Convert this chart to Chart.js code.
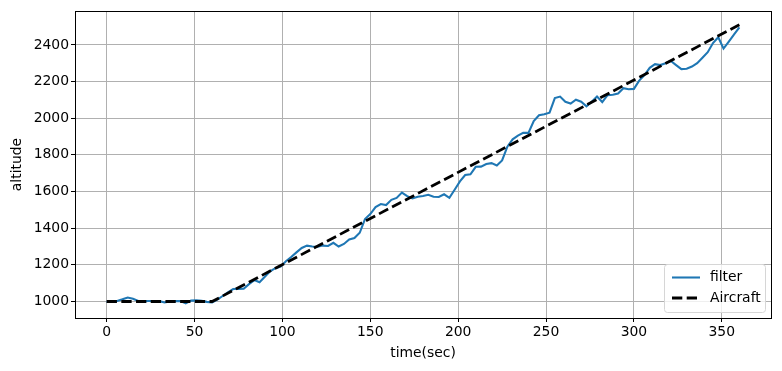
<!DOCTYPE html>
<html>
<head>
<meta charset="utf-8">
<script src="https://cdn.jsdelivr.net/npm/chart.js@4/dist/chart.umd.min.js"></script>
<style>
  html, body { margin: 0; padding: 0; background: #fff; }
  #wrap { width: 782px; height: 371px; }
</style>
</head>
<body>
<div id="wrap"><canvas id="c" width="782" height="371"></canvas></div>
<script>
// --- data ---
// filter: sampled every 3 sec, 0..360
const filterTimes = [];
for (let t = 0; t <= 360; t += 3) filterTimes.push(t);
const filterAlt = [
  997, 1000, 1003, 1012, 1022, 1015, 1003, 1002, 1003, 1003,
  1002, 995, 1000, 1003, 1002, 990, 1005, 1006, 1004, 998,
  995, 1010, 1030, 1050, 1068, 1069, 1070, 1095, 1117, 1105,
  1135, 1165, 1182, 1190, 1220, 1243, 1268, 1292, 1305, 1300,
  1299, 1305, 1303, 1320, 1300, 1314, 1338, 1346, 1375, 1450,
  1477, 1515, 1532, 1526, 1555, 1565, 1594, 1575, 1562, 1572,
  1576, 1582, 1572, 1570, 1585, 1566, 1610, 1655, 1690, 1694,
  1735, 1736, 1750, 1755, 1742, 1770, 1845, 1885, 1905, 1920,
  1920, 1985, 2016, 2022, 2030, 2110, 2118, 2090, 2080, 2101,
  2090, 2065, 2090, 2118, 2088, 2126, 2128, 2135, 2164, 2158,
  2160, 2205, 2235, 2275, 2295, 2290, 2300, 2312, 2290, 2268,
  2270, 2282, 2300, 2330, 2360, 2410, 2442, 2380, 2418, 2457,
  2496
];
// aircraft: level until 60 s, then a steady climb
const aircraftTimes = [0, 60, 360];
const aircraftAlt = [1000, 1000, 2510];

const xTicks = [0, 50, 100, 150, 200, 250, 300, 350];
const yTicks = [1000, 1200, 1400, 1600, 1800, 2000, 2200, 2400];

const BLUE = "#1f77b4";
const GRID = "#b0b0b0";
const FONT = "'DejaVu Sans', sans-serif";
const FSIZE = 13.9;
const DASH = [10.3, 4.4];

const toPoints = (xs, ys) => xs.map((x, i) => ({ x: x, y: ys[i] }));

// frame round the axes + legend box inside, lower right (matplotlib look)
const framePlugin = {
    id: 'frame',
    afterDraw(chart) {
        const ctx = chart.ctx;
        const a = chart.chartArea;
        ctx.save();
        ctx.strokeStyle = "#000";
        ctx.lineWidth = 1;
        ctx.strokeRect(Math.round(a.left) + 0.5, Math.round(a.top) + 0.5,
            Math.round(a.right - a.left), Math.round(a.bottom - a.top));

        // legend
        const bx = a.right - 107, by = a.bottom - 54, bw = 101, bh = 48;
        ctx.fillStyle = "rgba(255,255,255,0.8)";
        ctx.strokeStyle = "#d6d6d6";
        ctx.lineWidth = 1;
        ctx.beginPath();
        ctx.roundRect(bx + 0.5, by + 0.5, bw, bh, 3);
        ctx.fill();
        ctx.stroke();

        ctx.lineWidth = 2.08;
        ctx.strokeStyle = BLUE;
        ctx.beginPath();
        ctx.moveTo(bx + 8, by + 13.5);
        ctx.lineTo(bx + 36, by + 13.5);
        ctx.stroke();

        ctx.lineWidth = 2.78;
        ctx.strokeStyle = "#000";
        ctx.setLineDash(DASH);
        ctx.beginPath();
        ctx.moveTo(bx + 8, by + 34);
        ctx.lineTo(bx + 36, by + 34);
        ctx.stroke();
        ctx.setLineDash([]);

        ctx.fillStyle = "#000";
        ctx.font = FSIZE + "px " + FONT;
        ctx.textBaseline = "middle";
        ctx.fillText("filter", bx + 46, by + 13.5);
        ctx.fillText("Aircraft", bx + 46, by + 34);
        ctx.restore();
    }
};

new Chart(document.getElementById('c').getContext('2d'), {
    type: 'scatter',
    data: {
        datasets: [
            {
                label: 'filter',
                data: toPoints(filterTimes, filterAlt),
                showLine: true,
                borderColor: BLUE,
                borderWidth: 2.08,
                pointRadius: 0,
                tension: 0,
                order: 1
            },
            {
                label: 'Aircraft',
                data: toPoints(aircraftTimes, aircraftAlt),
                showLine: true,
                borderColor: "#000",
                borderWidth: 2.78,
                borderDash: DASH,
                pointRadius: 0,
                tension: 0,
                order: 0
            }
        ]
    },
    options: {
        responsive: false,
        animation: false,
        layout: { padding: { top: 11, right: 11, left: 0, bottom: 0 } },
        plugins: {
            legend: { display: false },
            tooltip: { enabled: false }
        },
        scales: {
            x: {
                type: 'linear',
                min: -18, max: 378,
                afterBuildTicks: (s) => { s.ticks = xTicks.map(v => ({ value: v })); },
                afterFit: (s) => { s.height = 53; },
                ticks: { color: "#000", font: { family: FONT, size: FSIZE }, padding: 2, maxRotation: 0,
                         callback: (v) => String(v) },
                grid: { color: GRID, lineWidth: 1, tickColor: "#000", tickLength: 4 },
                border: { display: false },
                title: { display: true, text: 'time(sec)', color: "#000", font: { family: FONT, size: FSIZE }, padding: { top: 0, bottom: 9 } }
            },
            y: {
                type: 'linear',
                min: 910, max: 2585,
                afterBuildTicks: (s) => { s.ticks = yTicks.map(v => ({ value: v })); },
                afterFit: (s) => { s.width = 75; },
                ticks: { color: "#000", font: { family: FONT, size: FSIZE }, padding: 2,
                         callback: (v) => String(v) },
                grid: { color: GRID, lineWidth: 1, tickColor: "#000", tickLength: 4 },
                border: { display: false },
                title: { display: true, text: 'altitude', color: "#000", font: { family: FONT, size: FSIZE }, padding: { top: 9, bottom: 0 } }
            }
        }
    },
    plugins: [framePlugin]
});
</script>
</body>
</html>
